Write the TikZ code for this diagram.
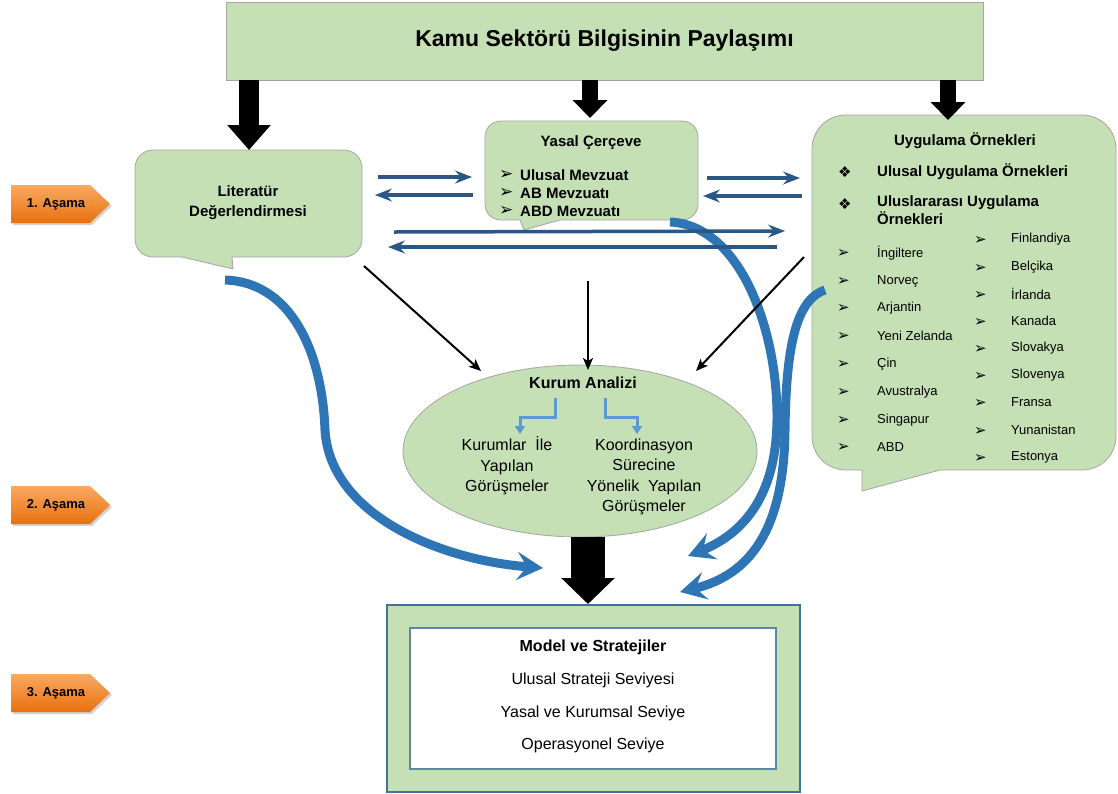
\documentclass[tikz,border=0pt]{standalone}
\usepackage{fontspec}
\setmainfont{Liberation Sans}
\newfontfamily\dingfont{DejaVu Sans}
\usetikzlibrary{arrows.meta,shadows,shapes.geometric}

\definecolor{leaf}{HTML}{C5E0B4}
\definecolor{edgegray}{HTML}{A5A5A5}
\definecolor{navy}{HTML}{2A5786}
\definecolor{flow}{HTML}{2E75B6}
\definecolor{sky}{HTML}{5B9BD5}
\definecolor{frame}{HTML}{41719C}
\definecolor{orangetop}{HTML}{F9A962}
\definecolor{orangebot}{HTML}{E8700E}

\tikzset{
  panel/.style={fill=leaf, draw=edgegray, line width=0.8pt},
  hd/.style={font=\fontsize{15}{20}\selectfont\bfseries, inner sep=0pt},
  item/.style={font=\fontsize{13}{16}\selectfont, anchor=west, inner sep=0pt},
  bitem/.style={font=\fontsize{15}{18}\selectfont\bfseries, anchor=west, inner sep=0pt, align=left},
  bul/.style={font=\dingfont\fontsize{15}{16}\selectfont, anchor=west, inner sep=0pt},
  body/.style={font=\fontsize{16}{20.5}\selectfont, inner sep=0pt, align=center},
  navylink/.style={navy, line width=3.5pt, -{Stealth[length=17pt,width=13pt,inset=6pt]}},
  feed/.style={black, line width=2pt, -{Stealth[length=12pt,width=10pt,inset=3pt]}},
  sweep/.style={flow, line width=9pt, -{Stealth[length=26pt,width=28pt,inset=10pt]}},
  elbow/.style={sky, line width=3pt, -{Triangle[length=8pt,width=10pt]}},
  bigdown/.style n args={3}{black, line width=#1, -{Triangle[length=#3,width=#2]}},
  stagebox/.style={top color=orangetop, bottom color=orangebot,
    drop shadow={opacity=0.35, shadow xshift=2pt, shadow yshift=-2pt}},
  stagelbl/.style={font=\fontsize{13}{16}\selectfont\bfseries, inner sep=0pt},
}

\begin{document}
\begin{tikzpicture}[x=1pt, y=-1pt]
\useasboundingbox (0,0) rectangle (1118,793);

% ---------- title bar ----------
\node[panel, minimum width=757pt, minimum height=78pt, inner sep=0pt] (kamu) at (604.5,41)
  {\fontsize{23}{27}\selectfont\bfseries Kamu Sektörü Bilgisinin Paylaşımı};

% ---------- callout panels (rounded boxes with a pointed tail) ----------
\draw[panel] (233,269) -- (232,257)
  -- (344,257) .. controls (354,257) and (362,249) .. (362,239)
  -- (362,168) .. controls (362,158) and (354,150) .. (344,150)
  -- (153,150) .. controls (143,150) and (135,158) .. (135,168)
  -- (135,239) .. controls (135,249) and (143,257) .. (153,257)
  -- (182,257) -- cycle;
\draw[panel] (524,230) -- (560,220)
  -- (682,220) .. controls (691,220) and (698,213) .. (698,204)
  -- (698,137) .. controls (698,128) and (691,121) .. (682,121)
  -- (501,121) .. controls (492,121) and (485,128) .. (485,137)
  -- (485,204) .. controls (485,213) and (492,220) .. (501,220)
  -- (520,220) -- cycle;
\draw[panel] (862,491) -- (940,470)
  -- (1082,470) .. controls (1101,470) and (1116,455) .. (1116,436)
  -- (1116,149) .. controls (1116,130) and (1101,115) .. (1082,115)
  -- (846,115) .. controls (827,115) and (812,130) .. (812,149)
  -- (812,436) .. controls (812,455) and (827,470) .. (846,470)
  -- (862,470) -- cycle;

\coordinate (lit-top) at (249,150);
\coordinate (yas-top) at (590,118);
\coordinate (uyg-top) at (948,120);

% literature review
\node[hd, align=center] (lit) at (248,203) {Literatür\\Değerlendirmesi};

% legal framework
\node[hd] (yas) at (591,143) {Yasal Çerçeve};
\foreach \t/\y [count=\i] in {Ulusal Mevzuat/175, AB Mevzuatı/193, ABD Mevzuatı/211}{
  \node[bul, font=\dingfont\fontsize{17}{18}\selectfont] (yb\i) at (499,\y) {➢};
  \node[bitem] (yt\i) at (520,\y) {\t};
}

% practice examples
\node[hd] (uyg) at (965,141) {Uygulama Örnekleri};
\node[bul] (ub1) at (838,172) {❖};
\node[bitem] (ut1) at (877,172) {Ulusal Uygulama Örnekleri};
\node[bul] (ub2) at (838,204) {❖};
\node[bitem, anchor=north west] (ut2) at (877,195) {Uluslararası Uygulama\\Örnekleri};

\foreach \t/\y [count=\i] in {İngiltere/253, Norveç/281, Arjantin/308, Yeni Zelanda/336,
    Çin/364, Avustralya/392, Singapur/420, ABD/447}{
  \node[bul] (lb\i) at (837,\y) {➢};
  \node[item] (lt\i) at (877,\y) {\t};
}
\foreach \t/\y [count=\i] in {Finlandiya/239, Belçika/267, İrlanda/294, Kanada/321, Slovakya/348,
    Slovenya/375, Fransa/402, Yunanistan/430, Estonya/457}{
  \node[bul] (rb\i) at (974,{\y+1.5}) {➢};
  \node[item] (rt\i) at (1011,\y) {\t};
}

% ---------- institution analysis ----------
\node[ellipse, draw=edgegray, fill=leaf, line width=0.8pt, minimum width=354pt, minimum height=172pt] (kurum) at (580,451) {};
\node[body, font=\fontsize{16}{20}\selectfont\bfseries] (ka) at (583,383) {Kurum Analizi};
\node[body] (kl) at (507,466) {Kurumlar~ İle\\Yapılan\\Görüşmeler};
\node[body] (kr) at (644,477) {Koordinasyon\\Sürecine\\Yönelik~ Yapılan\\Görüşmeler};

\coordinate (ka-l) at (555,398);
\coordinate (ka-r) at (605,398);
\coordinate (kl-in) at (520,434);
\coordinate (kr-in) at (637,434);
\draw[elbow] (ka-l) -- (555,417) -- (520,417) -- (kl-in);
\draw[elbow] (ka-r) -- (605,417) -- (637,417) -- (kr-in);

% ---------- models and strategies ----------
\node[draw=frame, fill=leaf, line width=1.5pt, minimum width=413pt, minimum height=187pt, inner sep=0pt] (model) at (593.5,698.5) {};
\node[draw=frame!85, fill=white, line width=1.5pt, minimum width=366pt, minimum height=141pt, inner sep=0pt] (modelin) at (593,698.5) {};
\node[body, font=\fontsize{16}{20}\selectfont\bfseries] (m0) at (593,647) {Model ve Stratejiler};
\node[body] (m1) at (593,680) {Ulusal Strateji Seviyesi};
\node[body] (m2) at (593,713) {Yasal ve Kurumsal Seviye};
\node[body] (m3) at (593,745) {Operasyonel Seviye};

% ---------- stage tags ----------
\foreach \n/\c in {1/204, 2/505, 3/693}{
  \path[stagebox] (11,{\c-19}) -- (90,{\c-19}) -- (110,\c) -- (90,{\c+19}) -- (11,{\c+19}) -- cycle;
  \node[stagelbl] (stage\n) at (56,\c) {\n. Aşama};
}

% ---------- block arrows ----------
\draw[bigdown={20pt}{42pt}{25pt}] (kamu.south -| lit-top) -- (lit-top);
\draw[bigdown={16pt}{34pt}{18pt}] (kamu.south -| yas-top) -- (yas-top);
\draw[bigdown={16pt}{34pt}{18pt}] (kamu.south -| uyg-top) -- (uyg-top);
\coordinate (model-top) at (588,604);
\draw[bigdown={34pt}{52pt}{26pt}] (kurum.south -| model-top) -- (model-top);

% ---------- sweeping feeds into the models ----------
\coordinate (lit-out) at (225,280);
\coordinate (yas-out) at (670,222);
\coordinate (uyg-out) at (825,290);
\coordinate (model-in1) at (543,568);
\coordinate (model-in2) at (688,556);
\coordinate (model-in3) at (680,592);
\draw[sweep] (lit-out) .. controls (290,282) and (322,350) .. (325,430)
  .. controls (330,515) and (440,560) .. (model-in1);
\draw[sweep] (yas-out) .. controls (740,225) and (778,330) .. (777,420)
  .. controls (776,500) and (740,535) .. (model-in2);
\draw[sweep] (uyg-out) .. controls (795,300) and (786,350) .. (785,430)
  .. controls (784,530) and (750,575) .. (model-in3);

% ---------- exchanges between panels ----------
\coordinate (a1) at (378,177); \coordinate (a2) at (472,177);
\coordinate (b1) at (473,195); \coordinate (b2) at (375,195);
\coordinate (c1) at (707,178); \coordinate (c2) at (800,178);
\coordinate (d1) at (802,196); \coordinate (d2) at (703,196);
\coordinate (e1) at (394,232); \coordinate (e2) at (785,231);
\coordinate (f1) at (777,247); \coordinate (f2) at (388,247);
\draw[navylink] (a1) -- (a2);
\draw[navylink] (b1) -- (b2);
\draw[navylink] (c1) -- (c2);
\draw[navylink] (d1) -- (d2);
\draw[navylink] (e1) -- (e2);
\draw[navylink] (f1) -- (f2);

% ---------- inputs to the analysis ----------
\coordinate (lit-feed) at (364,266);
\coordinate (yas-feed) at (588,281);
\coordinate (uyg-feed) at (804,257);
\draw[feed] (lit-feed) -- (481,371);
\draw[feed] (yas-feed) -- (588,370);
\draw[feed] (uyg-feed) -- (696,371);
\end{tikzpicture}
\end{document}
